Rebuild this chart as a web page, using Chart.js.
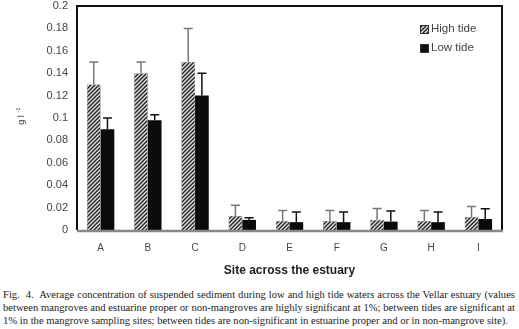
<!DOCTYPE html>
<html>
<head>
<meta charset="utf-8">
<script src="https://cdn.jsdelivr.net/npm/chart.js@4.4.0/dist/chart.umd.min.js"></script>
<style>
  body { margin: 0; background: #fff; width: 519px; height: 329px; overflow: hidden; position: relative; }
  #wrap { position: absolute; left: 0; top: 0; width: 519px; height: 282px; }
  #caption {
    position: absolute; left: 3px; top: 288px; width: 512px;
    font-family: "Liberation Serif", "DejaVu Serif", serif; font-size: 10.6px; line-height: 13.2px;
    color: #222; text-align: justify;
  }
</style>
</head>
<body>
<div id="wrap"><canvas id="chart"></canvas></div>
<div id="caption">Fig.&nbsp; 4.&nbsp; Average concentration of suspended sediment during low and high tide waters across the Vellar estuary (values between mangroves and estuarine proper or non-mangroves are highly significant at 1%; between tides are significant at 1% in the mangrove sampling sites; between tides are non-significant in estuarine proper and or in non-mangrove site).</div>
<script>
// Data
const sites = ['A', 'B', 'C', 'D', 'E', 'F', 'G', 'H', 'I'];
const highTide = [0.13, 0.14, 0.15, 0.0125, 0.008, 0.008, 0.0092, 0.008, 0.0115];
const highTideErr = [0.02, 0.01, 0.03, 0.0095, 0.0095, 0.0095, 0.01, 0.0093, 0.0095];
const lowTide = [0.09, 0.098, 0.12, 0.009, 0.007, 0.007, 0.0075, 0.007, 0.0098];
const lowTideErr = [0.01, 0.005, 0.02, 0.002, 0.009, 0.009, 0.0095, 0.009, 0.0092];
const yTicks = { min: 0, max: 0.2, step: 0.02 };

// diagonal hatch for high tide bars
function makeHatch() {
    const c = document.createElement('canvas');
    c.width = 4; c.height = 4;
    const g = c.getContext('2d');
    g.fillStyle = '#e0e0e0';
    g.fillRect(0, 0, 4, 4);
    g.strokeStyle = '#222';
    g.lineWidth = 1.4;
    g.beginPath();
    g.moveTo(0, 4); g.lineTo(4, 0);
    g.moveTo(-1, 1); g.lineTo(1, -1);
    g.moveTo(3, 5); g.lineTo(5, 3);
    g.stroke();
    return g.createPattern(c, 'repeat');
}
const hatch = makeHatch();

const errors = [highTideErr, lowTideErr];
const errColors = ['#777', '#111'];

// upward error bars with caps
const errorBars = {
    id: 'errorBars',
    afterDatasetsDraw(chart) {
        const ctx = chart.ctx;
        const y = chart.scales.y;
        chart.data.datasets.forEach((ds, i) => {
            const meta = chart.getDatasetMeta(i);
            meta.data.forEach((bar, j) => {
                const top = y.getPixelForValue(ds.data[j] + errors[i][j]);
                ctx.save();
                ctx.strokeStyle = errColors[i];
                ctx.lineWidth = 1.5;
                ctx.beginPath();
                ctx.moveTo(bar.x, bar.y);
                ctx.lineTo(bar.x, top);
                ctx.moveTo(bar.x - 4.5, top);
                ctx.lineTo(bar.x + 4.5, top);
                ctx.stroke();
                ctx.restore();
            });
        });
    }
};

// frame, axis lines, legend and y title
const frame = {
    id: 'frame',
    afterDraw(chart) {
        const ctx = chart.ctx;
        const a = chart.chartArea;
        ctx.save();
        ctx.strokeStyle = '#111';
        ctx.lineWidth = 2;
        ctx.beginPath();
        ctx.moveTo(a.left, a.bottom);
        ctx.lineTo(a.left, a.top);
        ctx.lineTo(a.right, a.top);
        ctx.lineTo(a.right, a.bottom);
        ctx.stroke();
        ctx.strokeStyle = '#888';
        ctx.lineWidth = 2.5;
        ctx.beginPath();
        ctx.moveTo(a.left, a.bottom + 1);
        ctx.lineTo(a.right + 1, a.bottom + 1);
        ctx.stroke();

        // legend
        ctx.font = '11.5px "Liberation Sans", Arial, sans-serif';
        ctx.textBaseline = 'middle';
        chart.data.datasets.forEach((ds, i) => {
            const ly = 29 + i * 19;
            ctx.fillStyle = i === 0 ? hatch : '#111';
            ctx.fillRect(420, ly - 4, 9, 9);
            ctx.strokeStyle = '#333';
            ctx.lineWidth = 1;
            ctx.strokeRect(420.5, ly - 3.5, 8, 8);
            ctx.fillStyle = '#444';
            ctx.fillText(ds.label, 431, ly);
        });

        // y title g l-1
        ctx.translate(22, 118);
        ctx.rotate(-Math.PI / 2);
        ctx.fillStyle = '#333';
        ctx.textAlign = 'center';
        ctx.font = '9px "Liberation Sans", Arial, sans-serif';
        ctx.fillText('g l', -2, 0);
        ctx.font = '6px "Liberation Sans", Arial, sans-serif';
        ctx.fillText('-1', 8, -4);
        ctx.restore();
    }
};

new Chart(document.getElementById('chart').getContext('2d'), {
    type: 'bar',
    data: {
        labels: sites,
        datasets: [
            { label: 'High tide', data: highTide, backgroundColor: hatch, borderColor: '#555', borderWidth: 0.5 },
            { label: 'Low tide', data: lowTide, backgroundColor: '#0a0a0a', borderWidth: 0 }
        ]
    },
    options: {
        responsive: true,
        maintainAspectRatio: false,
        animation: false,
        layout: { padding: { top: 6, right: 17, left: 0, bottom: 0 } },
        datasets: { bar: { categoryPercentage: 0.58, barPercentage: 1 } },
        scales: {
            x: {
                grid: { display: false, drawTicks: false },
                border: { display: false },
                ticks: { color: '#444', padding: 12, font: { family: '"Liberation Sans", Arial, sans-serif', size: 10 } },
                title: {
                    display: true, text: 'Site across the estuary', color: '#222', padding: { top: 8 },
                    font: { family: '"Liberation Sans", Arial, sans-serif', size: 12, weight: 'bold' }
                },
                afterFit: s => { s.height = 52; }
            },
            y: {
                min: yTicks.min, max: yTicks.max,
                grid: { display: false, drawTicks: false },
                border: { display: false },
                ticks: {
                    stepSize: yTicks.step, color: '#444', padding: 9,
                    font: { family: '"Liberation Sans", Arial, sans-serif', size: 11 },
                    callback: v => parseFloat(v.toFixed(2)).toString()
                },
                afterFit: s => { s.width = 77; s.paddingTop = 0; s.paddingBottom = 0; }
            }
        },
        plugins: {
            legend: { display: false },
            tooltip: { enabled: false }
        }
    },
    plugins: [errorBars, frame]
});
</script>
</body>
</html>
